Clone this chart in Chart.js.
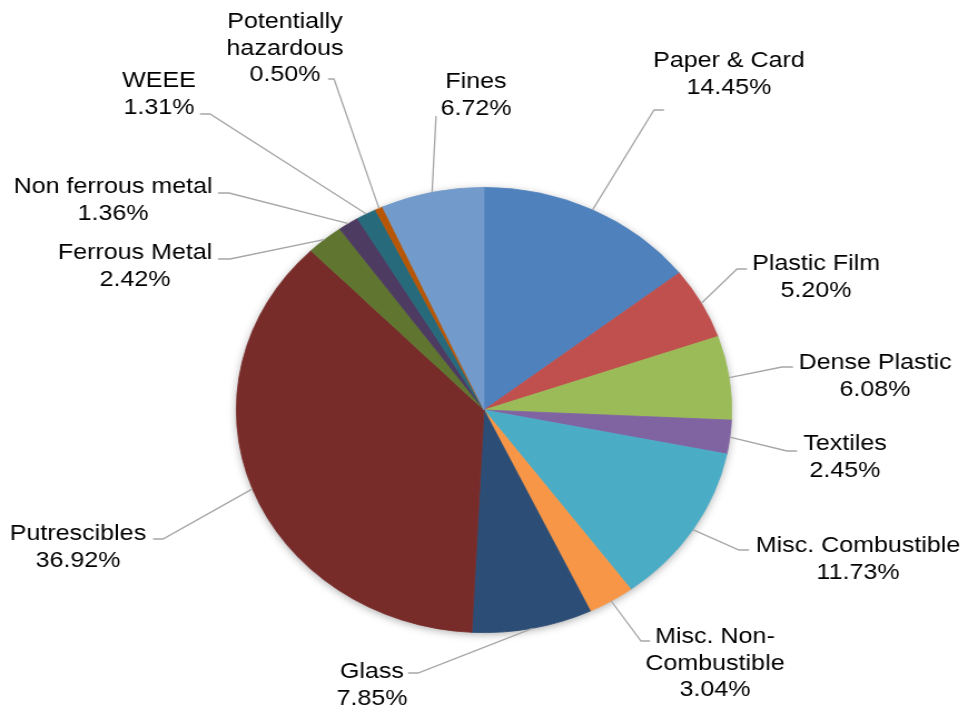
<!DOCTYPE html>
<html>
<head>
<meta charset="utf-8">
<script src="https://cdn.jsdelivr.net/npm/chart.js@4/dist/chart.umd.min.js"></script>
<style>
  html, body { margin: 0; padding: 0; background: #fff; overflow: hidden; width: 968px; height: 710px; }
  #wrap { position: absolute; left: 0; top: 0; width: 870px; height: 710px; transform-origin: 0 0; transform: scaleX(1.11264); }
  canvas { display: block; }
</style>
</head>
<body>
<div id="wrap"><canvas id="c" width="870" height="710" style="width:870px;height:710px"></canvas></div>
<script>
// ---- data ----
const categories = ['Paper & Card', 'Plastic Film', 'Dense Plastic', 'Textiles', 'Misc. Combustible',
  'Misc. Non-Combustible', 'Glass', 'Putrescibles', 'Ferrous Metal', 'Non ferrous metal', 'WEEE',
  'Potentially hazardous', 'Fines'];
const percentages = [14.45, 5.20, 6.08, 2.45, 11.73, 3.04, 7.85, 36.92, 2.42, 1.36, 1.31, 0.50, 6.72];
const sliceColors = ['#4F81BD', '#C0504D', '#9BBB59', '#8064A2', '#4BACC6', '#F79646',
  '#2C4D75', '#772C2A', '#5F7530', '#4D3B62', '#276A7C', '#B65708', '#729ACA'];

// ---- label layout (page pixels): text centre, first-line centre y, leader anchor and elbow ----
const wrappedNames = {
  'Misc. Non-Combustible': ['Misc. Non-', 'Combustible'],
  'Potentially hazardous': ['Potentially', 'hazardous']
};
const labelLayout = [
  { cx: 729, cy: 60,  ax: 664, ay: 110, ex: 654 },
  { cx: 816, cy: 263, ax: 747, ay: 269, ex: 737 },
  { cx: 875, cy: 362, ax: 793, ay: 367, ex: 782 },
  { cx: 845, cy: 443, ax: 797, ay: 451, ex: 787 },
  { cx: 858, cy: 545, ax: 749, ay: 550, ex: 739 },
  { cx: 715, cy: 636, ax: 650, ay: 641, ex: 641 },
  { cx: 372, cy: 671, ax: 408, ay: 673, ex: 418 },
  { cx: 78,  cy: 533, ax: 153, ay: 539, ex: 163 },
  { cx: 135, cy: 252, ax: 218, ay: 259, ex: 230 },
  { cx: 113, cy: 186, ax: 218, ay: 193, ex: 229 },
  { cx: 159, cy: 80,  ax: 200, ay: 114, ex: 210 },
  { cx: 285, cy: 21,  ax: 328, ay: 79,  ex: 334 },
  { cx: 476, cy: 81,  ax: 436, ay: 116, ex: 436 }
];

const SX = 968 / 870; // horizontal stretch of the original picture
const LINE_H = 26.3;

const shadowPlugin = {
  id: 'pieShadow',
  beforeDatasetsDraw(chart) {
    const meta = chart.getDatasetMeta(0);
    if (!meta.data.length) return;
    const a = meta.data[0];
    const ctx = chart.ctx;
    ctx.save();
    ctx.shadowColor = 'rgba(0,0,0,0.35)';
    ctx.shadowBlur = 9;
    ctx.shadowOffsetX = 0;
    ctx.shadowOffsetY = 2;
    ctx.fillStyle = '#ffffff';
    ctx.beginPath();
    ctx.arc(a.x, a.y, a.outerRadius - 0.5, 0, Math.PI * 2);
    ctx.fill();
    ctx.restore();
  }
};

const labelPlugin = {
  id: 'pieLabels',
  afterDatasetsDraw(chart) {
    const meta = chart.getDatasetMeta(0);
    const ctx = chart.ctx;
    ctx.save();
    meta.data.forEach((arc, i) => {
      const L = labelLayout[i];
      const mid = (arc.startAngle + arc.endAngle) / 2;
      const px = arc.x + Math.cos(mid) * arc.outerRadius;
      const py = arc.y + Math.sin(mid) * arc.outerRadius;
      // leader line
      ctx.strokeStyle = '#A6A6A6';
      ctx.lineWidth = 1.3;
      ctx.beginPath();
      ctx.moveTo(px, py);
      ctx.lineTo(L.ex / SX, L.ay);
      ctx.lineTo(L.ax / SX, L.ay);
      ctx.stroke();
      // text
      const name = categories[i];
      const lines = (wrappedNames[name] || [name]).concat([percentages[i].toFixed(2) + '%']);
      ctx.fillStyle = '#000000';
      ctx.font = '22.5px "Liberation Sans", Arial, sans-serif';
      ctx.textAlign = 'center';
      ctx.textBaseline = 'middle';
      lines.forEach((t, k) => {
        ctx.fillText(t, L.cx / SX, L.cy + k * LINE_H + 1);
      });
    });
    ctx.restore();
  }
};

new Chart(document.getElementById('c'), {
  type: 'pie',
  data: {
    labels: categories,
    datasets: [{
      data: percentages,
      backgroundColor: sliceColors,
      borderColor: sliceColors,
      borderWidth: 0.8
    }]
  },
  options: {
    responsive: false,
    animation: false,
    events: [],
    layout: { padding: { left: 212, right: 212, top: 187, bottom: 77 } },
    plugins: {
      legend: { display: false },
      tooltip: { enabled: false },
      title: { display: false }
    }
  },
  plugins: [shadowPlugin, labelPlugin]
});
</script>
</body>
</html>
